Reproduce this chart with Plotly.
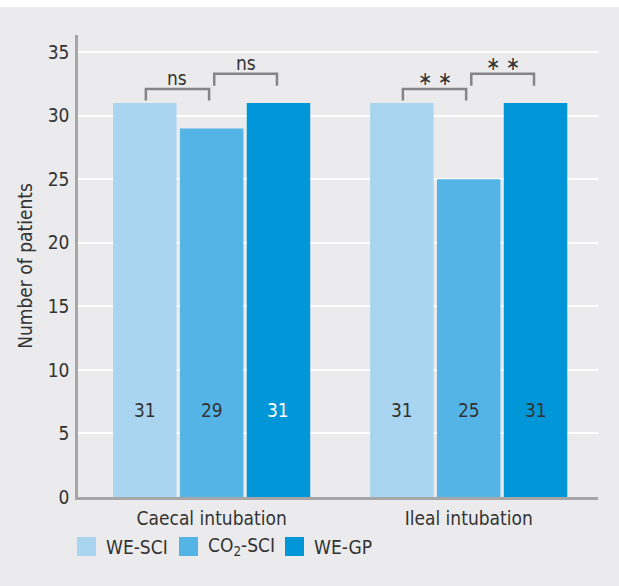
import plotly.graph_objects as go

categories = ["Caecal intubation", "Ileal intubation"]
series_names = ["WE-SCI", "CO<sub>2</sub>-SCI", "WE-GP"]
we_sci = [31, 31]
co2_sci = [29, 25]
we_gp = [31, 31]
series_colors = ["#A9D5F0", "#55B4E6", "#0096D7"]
y_ticks = [0, 5, 10, 15, 20, 25, 30, 35]
sig_left = ["ns", "∗ ∗"]
sig_right = ["ns", "∗ ∗"]

FONT = "Liberation Sans Narrow, DejaVu Sans Condensed, Arial Narrow, sans-serif"
TXT = "#333333"
BG = "#EBEBED"
FS = 19

series = [we_sci, co2_sci, we_gp]
bargap = 0.22
slot = (1 - bargap) / 3
offsets = [-slot, 0.0, slot]

PH = 462  # plot height in px
PW = 520  # plot width in px

fig = go.Figure()
xs = list(range(len(categories)))
for name, vals, col in zip(series_names, series, series_colors):
    fig.add_trace(go.Bar(x=xs, y=vals, name=name, showlegend=False, hoverinfo="skip",
                         marker=dict(color=col, line=dict(width=0))))

# value labels inside bars
label_y = 6.85
for si, vals in enumerate(series):
    for ci, v in enumerate(vals):
        color = "white" if (si == 2 and ci == 0) else TXT
        fig.add_annotation(x=ci + offsets[si], y=label_y, text=str(v), showarrow=False,
                           font=dict(family=FONT, size=FS, color=color), xanchor="center", yanchor="middle")

# significance brackets
br_col = "#858585"
for ci in range(len(categories)):
    x0 = ci + offsets[0] + 0.004
    x1 = ci + offsets[1] - 0.01
    top1, bot1 = 32.1, 31.2
    fig.add_shape(type="path", path=f"M {x0},{bot1} L {x0},{top1} L {x1},{top1} L {x1},{bot1}",
                  line=dict(color=br_col, width=2.5), xref="x", yref="y")
    fig.add_annotation(x=(x0 + x1) / 2, y=top1 - 0.17, text=sig_left[ci], showarrow=False,
                       font=dict(family=FONT, size=FS, color=TXT), yanchor="bottom")
    x2 = ci + offsets[1] + 0.01
    x3 = ci + offsets[2] - 0.006
    top2, bot2 = 33.3, 32.35
    fig.add_shape(type="path", path=f"M {x2},{bot2} L {x2},{top2} L {x3},{top2} L {x3},{bot2}",
                  line=dict(color=br_col, width=2.5), xref="x", yref="y")
    fig.add_annotation(x=(x2 + x3) / 2, y=top2 - 0.17, text=sig_right[ci], showarrow=False,
                       font=dict(family=FONT, size=FS, color=TXT), yanchor="bottom")

# legend drawn below the axis (square swatches + labels)
leg_x_px = [77, 179, 285]   # left edges of swatches relative to page
leg_y_px = 546.5            # center of swatches
sw = 19
for name, col, lx in zip(series_names, series_colors, leg_x_px):
    xl = (lx - 78) / PW
    xr = (lx + sw - 78) / PW
    yc = (497 - leg_y_px) / PH
    fig.add_shape(type="rect", xref="paper", yref="paper", x0=xl, x1=xr,
                  y0=yc - sw / 2 / PH, y1=yc + sw / 2 / PH, fillcolor=col, line=dict(width=0))
    fig.add_annotation(xref="paper", yref="paper", x=(lx + sw + 8 - 78) / PW, y=yc, text=name,
                       showarrow=False, xanchor="left", yanchor="middle",
                       font=dict(family=FONT, size=FS, color=TXT))

# white strip on top of the page
fig.add_shape(type="rect", xref="paper", yref="paper", x0=-0.3, x1=1.2, y0=1 + 28 / PH, y1=1.2,
              fillcolor="white", line=dict(width=0), layer="above")

fig.update_layout(
    width=619, height=586,
    margin=dict(l=78, r=21, t=35, b=89),
    paper_bgcolor=BG, plot_bgcolor=BG,
    barmode="group", bargap=bargap, bargroupgap=0.05,
    font=dict(family=FONT, size=FS, color=TXT),
    showlegend=False,
    xaxis=dict(range=[-0.52, 1.503], tickmode="array", tickvals=xs, ticktext=categories,
               showgrid=False, zeroline=False, showline=True, linecolor="#A6A6A6", linewidth=2.5,
               ticks="", ticklabelstandoff=2, tickfont=dict(size=FS, color=TXT)),
    yaxis=dict(range=[0, 36.35], tickmode="array", tickvals=y_ticks,
               showgrid=True, gridcolor="white", gridwidth=2, zeroline=False,
               showline=True, linecolor="#A6A6A6", linewidth=2.5, ticks="",
               ticklabelstandoff=2, tickfont=dict(size=FS, color=TXT),
               title=dict(text="Number of patients", standoff=11, font=dict(size=FS, color=TXT))),
)

fig.write_html("out.html", config={"displayModeBar": False},
               post_script="document.body.style.margin='0';document.body.style.overflow='hidden';")
